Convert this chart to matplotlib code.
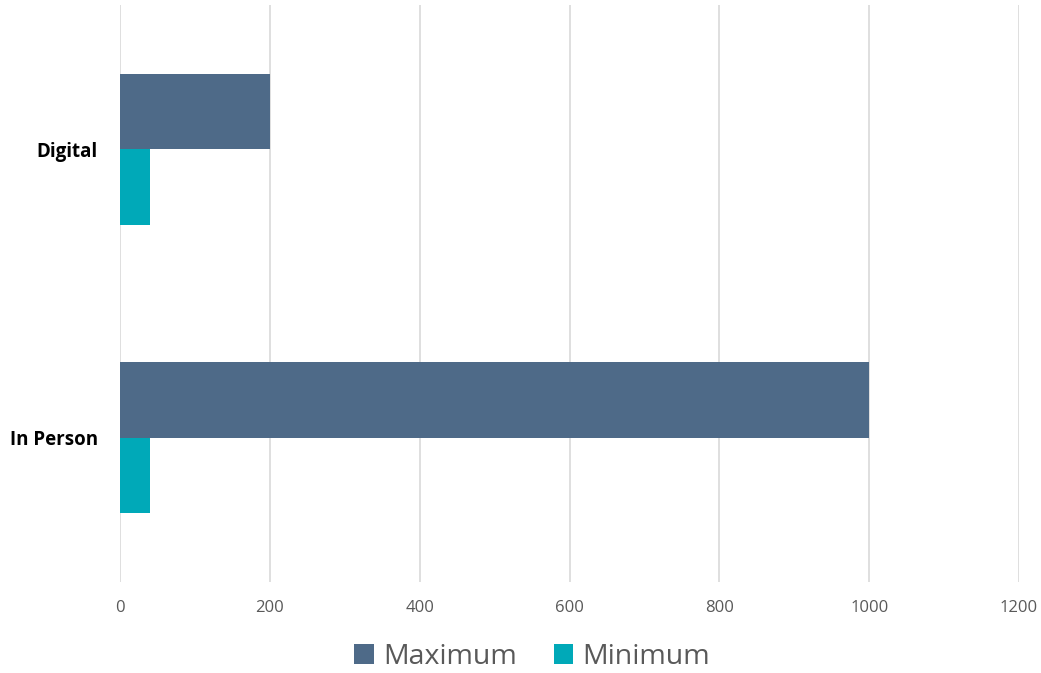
import numpy as np
import matplotlib
matplotlib.use("Agg")
import matplotlib.pyplot as plt

# data
categories = ["In Person", "Digital"]
maximum = [1000, 200]
minimum = [40, 40]

plt.rcParams['font.family'] = ['Open Sans', 'DejaVu Sans']

fig = plt.figure(figsize=(10.41, 6.73), dpi=100)
ax = fig.add_axes([0.1153, 0.1352, 0.8636, 0.8574])

y = np.arange(len(categories))
h = 0.262
ax.barh(y + h / 2, maximum, height=h, color='#4E6A88', label='Maximum', zorder=3)
ax.barh(y - h / 2, minimum, height=h, color='#00A9B8', label='Minimum', zorder=3)

ax.set_xlim(0, 1200)
ax.set_ylim(-0.5, 1.5)
ax.set_xticks(range(0, 1201, 200))
ax.set_yticks(y)
ax.set_yticklabels(categories, fontweight='bold', fontsize=13.5, color='black')
ax.tick_params(axis='x', labelsize=12, labelcolor='#595959', length=0, pad=13)
ax.tick_params(axis='y', length=0, pad=16)
ax.grid(axis='x', color='#D9D9D9', linewidth=1.2, zorder=0)
for s in ax.spines.values():
    s.set_visible(False)

fig.legend(loc='center', bbox_to_anchor=(0.511, 0.024), ncol=2, frameon=False,
           fontsize=20.5, labelcolor='#595959', handlelength=0.7, handleheight=0.7,
           handletextpad=0.3, columnspacing=1.3)

fig.savefig("out.png", dpi=100)
